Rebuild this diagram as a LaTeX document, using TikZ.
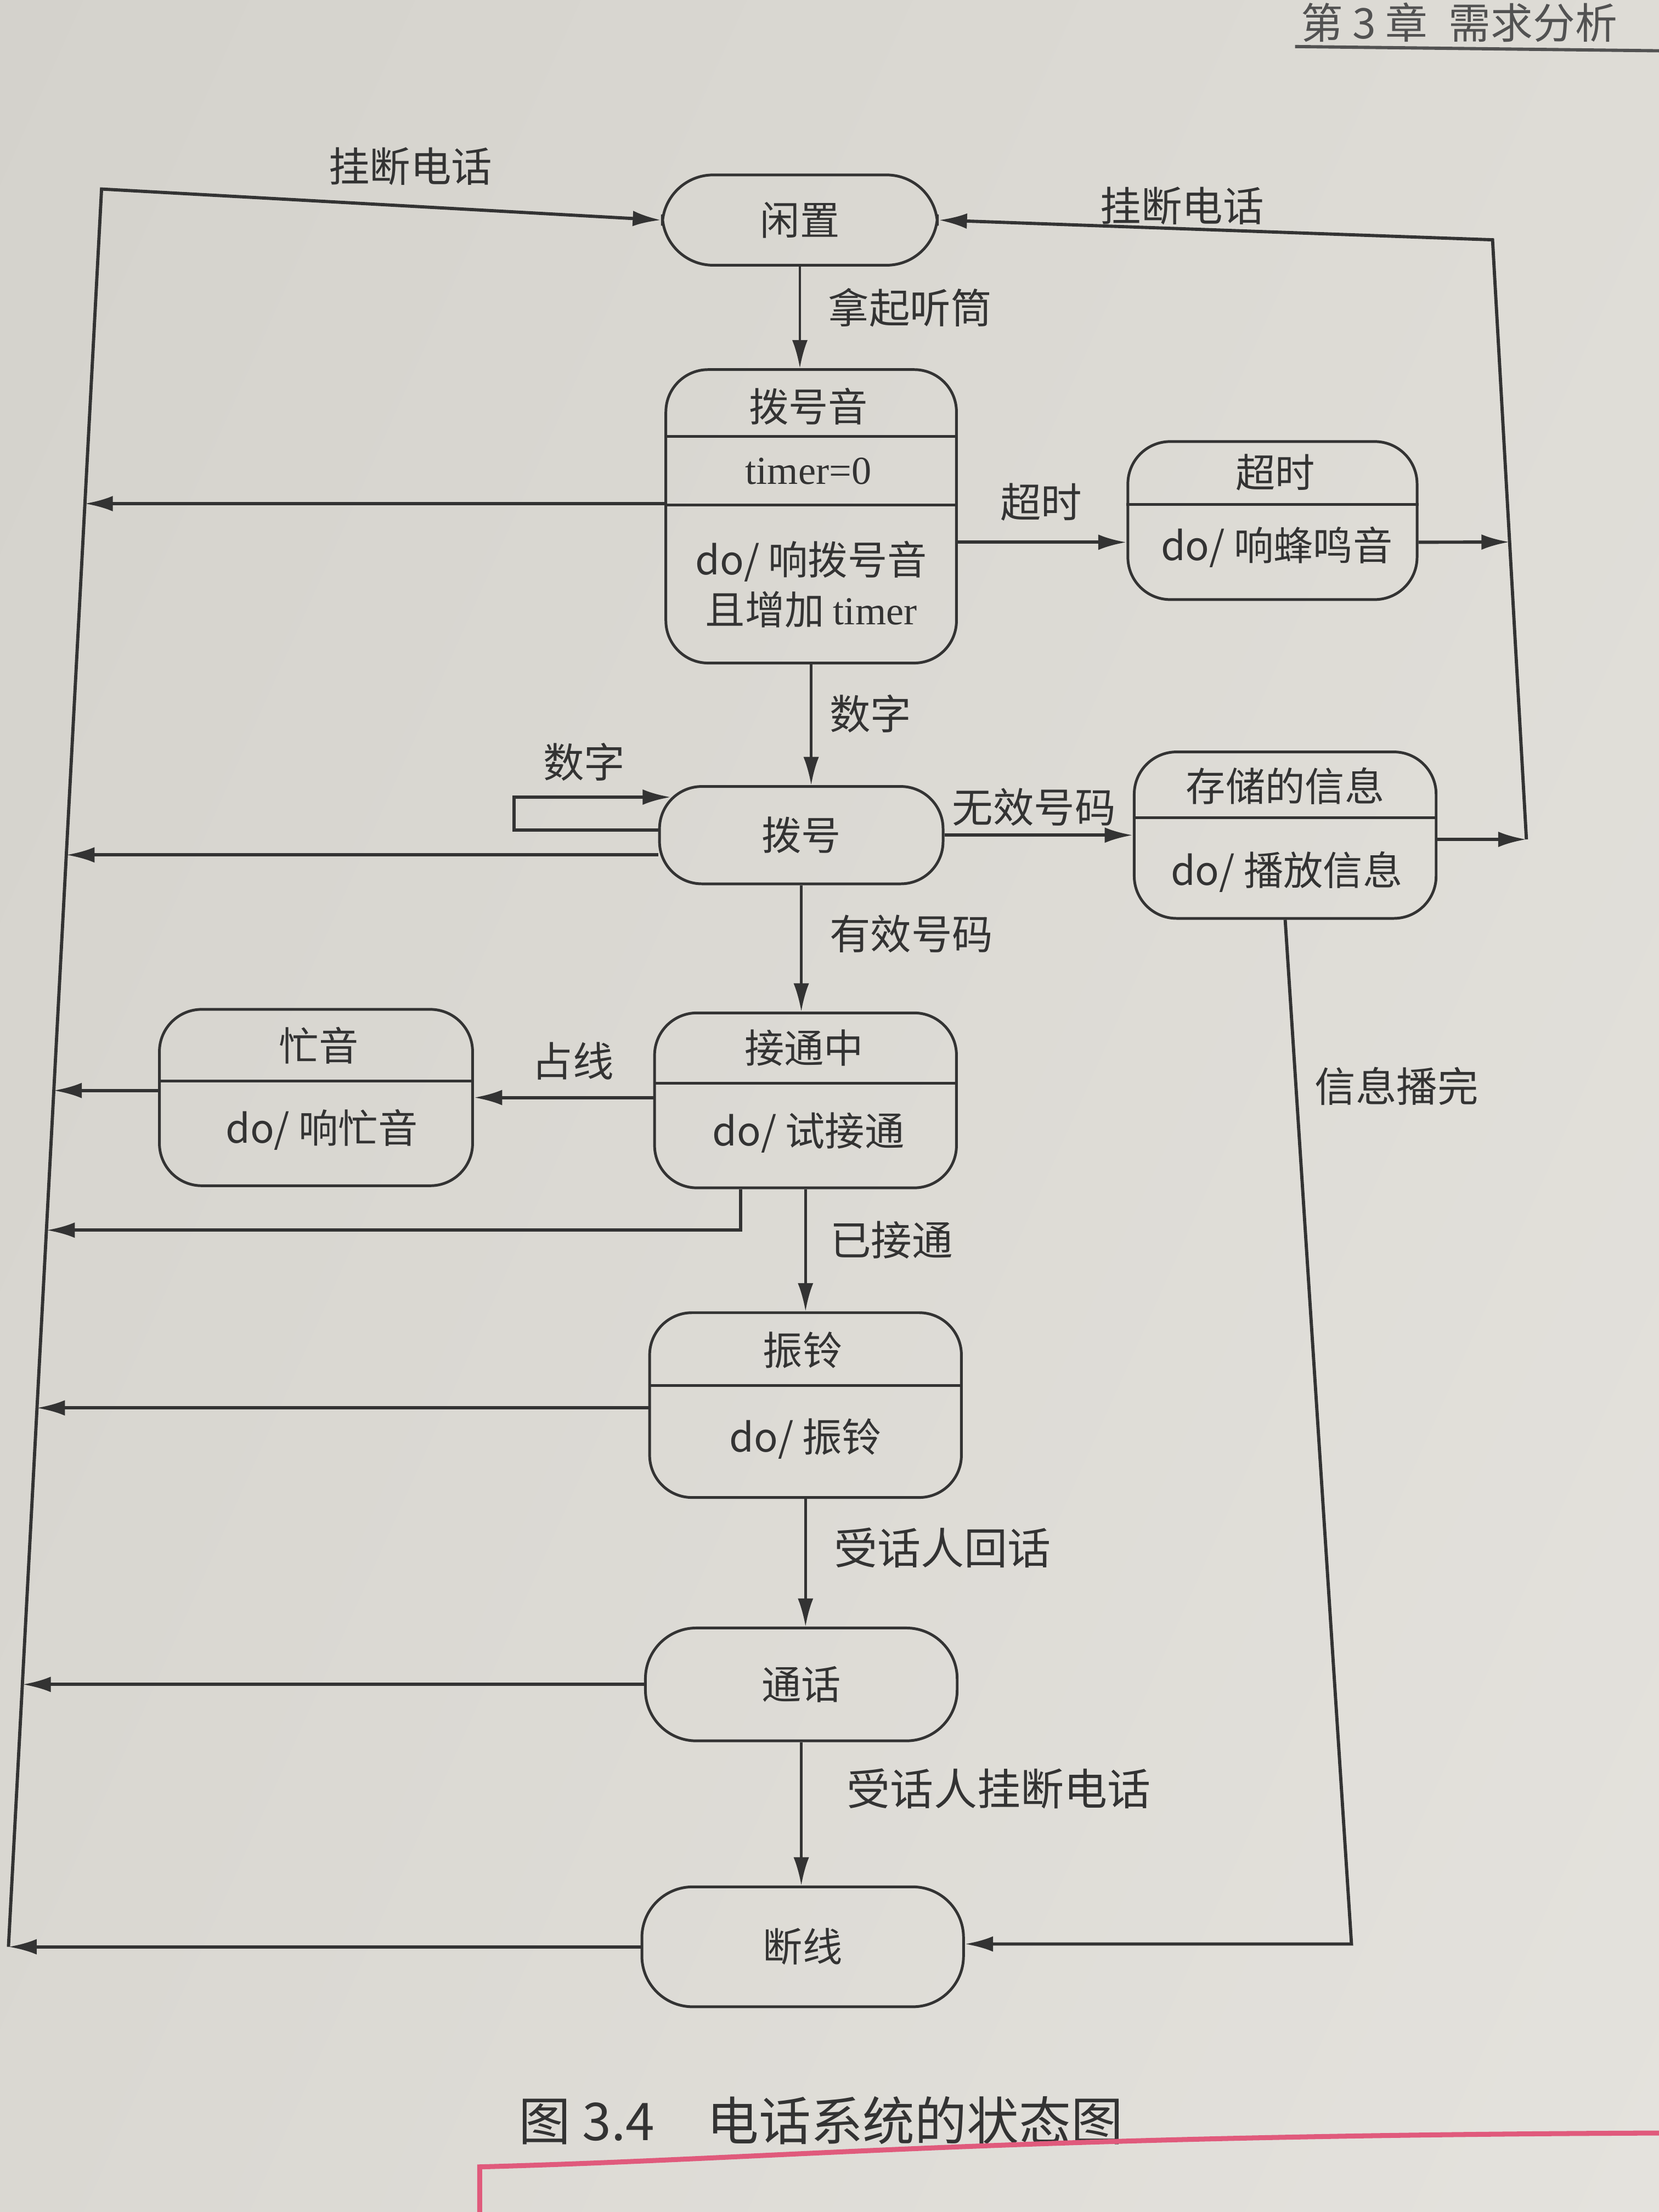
\documentclass[tikz,border=0pt]{standalone}
\usepackage{fontspec}
\setmainfont{Liberation Serif}
\newfontfamily\cjk{Noto Sans CJK SC}
\usetikzlibrary{arrows.meta,calc,shadings}
\definecolor{ink}{HTML}{333333}
\definecolor{paperA}{HTML}{D4D2CC}
\definecolor{paperB}{HTML}{DEDCD6}
\definecolor{paperC}{HTML}{DAD8D2}
\definecolor{paperD}{HTML}{E4E2DD}
\definecolor{pen}{HTML}{E05A7C}
\newlength{\ux}\setlength{\ux}{0.02cm}

\begin{document}
\begin{tikzpicture}[x=0.02cm,y=-0.02cm,
  state/.style={draw=ink, line width=1.1pt, rounded corners=30\ux, inner sep=0pt,
                font=\cjk\fontsize{16}{18}\selectfont, text=ink},
  pill/.style={state, rounded corners=36\ux},
  txt/.style={font=\cjk\fontsize{16}{18}\selectfont, text=ink, inner sep=0pt},
  lbl/.style={font=\cjk\fontsize{16.5}{18}\selectfont, text=ink, inner sep=0pt},
  big/.style={font=\cjk\fontsize{17.5}{19}\selectfont, text=ink, inner sep=0pt},
  tip/.style={-{Latex[length=0.4cm,width=0.22cm]}},
  arr/.style={draw=ink, line width=1pt, tip},
  bus/.style={draw=ink, line width=1.3pt, tip},
  part/.style={draw=ink, line width=1.1pt}
]
\useasboundingbox (0,0) rectangle (1176,1568);
\clip (0,0) rectangle (1176,1568);
\shade[upper left=paperA, upper right=paperB, lower left=paperC, lower right=paperD] (0,0) rectangle (1176,1568);

% running head
\node[anchor=west, font=\cjk\fontsize{17}{19}\selectfont, text=ink!85, inner sep=0pt] (head) at (922,16) {第 3 章\enspace 需求分析};
\draw[ink!85, line width=1.3pt] (918,33) -- (1176,36);

% ---------- states ----------
\node[pill, minimum width=195\ux, minimum height=64\ux] (idle) at (567,156) {闲置};

\node[state, minimum width=206\ux, minimum height=208\ux] (dialtone) at (575,366) {};
\node[txt] (dialtoneT) at (573,288) {拨号音};
\node[txt] (dialtoneV) at (573,334) {\rmfamily timer=0};
\node[txt] (dialtoneA) at (575,398) {do/ 响拨号音};
\node[txt] (dialtoneB) at (575,432) {且增加 {\rmfamily timer}};
\draw[part] ($(dialtone.north west)!0.231!(dialtone.south west)$) -- ($(dialtone.north east)!0.231!(dialtone.south east)$);
\draw[part] ($(dialtone.north west)!0.462!(dialtone.south west)$) -- ($(dialtone.north east)!0.462!(dialtone.south east)$);

\node[state, minimum width=205\ux, minimum height=112\ux] (timeout) at (902,369) {};
\node[txt] (timeoutT) at (904,335) {超时};
\node[txt] (timeoutA) at (905,388) {do/ 响蜂鸣音};
\draw[part] ($(timeout.north west)!0.40!(timeout.south west)$) -- ($(timeout.north east)!0.40!(timeout.south east)$);

\node[pill, minimum width=201\ux, minimum height=69\ux, rounded corners=30\ux] (dialing) at (568,592) {拨号};

\node[state, minimum width=214\ux, minimum height=118\ux] (stored) at (911,592) {};
\node[txt] (storedT) at (911,557) {存储的信息};
\node[txt] (storedA) at (912,618) {do/ 播放信息};
\draw[part] ($(stored.north west)!0.398!(stored.south west)$) -- ($(stored.north east)!0.398!(stored.south east)$);

\node[state, minimum width=214\ux, minimum height=124\ux] (connecting) at (571,780) {};
\node[txt] (connectingT) at (570,743) {接通中};
\node[txt] (connectingA) at (573,803) {do/ 试接通};
\draw[part] ($(connecting.north west)!0.403!(connecting.south west)$) -- ($(connecting.north east)!0.403!(connecting.south east)$);

\node[state, minimum width=222\ux, minimum height=125\ux] (busy) at (224,778) {};
\node[txt] (busyT) at (226,741) {忙音};
\node[txt] (busyA) at (228,801) {do/ 响忙音};
\draw[part] ($(busy.north west)!0.408!(busy.south west)$) -- ($(busy.north east)!0.408!(busy.south east)$);

\node[state, minimum width=221\ux, minimum height=131\ux] (ringing) at (571,996) {};
\node[txt] (ringingT) at (569,957) {振铃};
\node[txt] (ringingA) at (571,1020) {do/ 振铃};
\draw[part] ($(ringing.north west)!0.397!(ringing.south west)$) -- ($(ringing.north east)!0.397!(ringing.south east)$);

\node[pill, minimum width=221\ux, minimum height=80\ux] (talking) at (568,1194) {通话};
\node[pill, minimum width=228\ux, minimum height=85\ux] (hungup) at (569,1380) {断线};

% ---------- main column ----------
\draw[arr] (idle.south) -- (idle.south |- dialtone.north);
\draw[arr] (dialtone.south) -- (dialtone.south |- dialing.north);
\draw[arr] (dialing.south) -- (dialing.south |- connecting.north);
\draw[arr] (connecting.south) -- (connecting.south |- ringing.north);
\draw[arr] (ringing.south) -- (ringing.south |- talking.north);
\draw[arr] (talking.south) -- (talking.south |- hungup.north);

% ---------- hang-up bus on the left ----------
\coordinate (lt) at (72,134);
\coordinate (lb) at (6,1380);
\coordinate (l1) at (60,357);
\coordinate (l2) at (47,606);
\coordinate (l3) at (38,773);
\coordinate (l4) at (33,872);
\coordinate (l5) at (26,998);
\coordinate (l6) at (16,1194);
\coordinate (cb) at (525,872);
\draw[bus] (lb) -- (lt) -- (idle.west);
\draw[bus] (dialtone.west |- l1) -- (l1);
\draw[bus] (dialing.west |- l2) -- (l2);
\draw[bus] (busy.west |- l3) -- (l3);
\draw[bus] (cb |- connecting.south) -- (cb) -- (l4);
\draw[bus] (ringing.west |- l5) -- (l5);
\draw[bus] (talking.west |- l6) -- (l6);
\draw[bus] (hungup.west) -- (lb);

% ---------- hang-up bus on the right ----------
\coordinate (rt) at (1058,170);
\coordinate (rb) at (1082,595);
\coordinate (r1) at ($(rt)!0.504!(rb)$);
\coordinate (tin) at ($(timeout.north west)!0.635!(timeout.south west)$);
\draw[bus] (rb) -- (rt) -- (idle.east);
\draw[bus] (tin -| timeout.east) -- (r1);
\draw[bus] (stored.east |- rb) -- (rb);

% ---------- side transitions ----------
\draw[bus] (dialtone.east |- tin) -- (tin);
\draw[bus] (dialing.east) -- (stored.west);
\coordinate (lpA) at ($(dialing.north west)!0.45!(dialing.south west)$);
\coordinate (lpB) at ($(dialing.north west)!0.12!(dialing.south west)+(9,0)$);
\draw[bus] (lpA) -- ++(-102,0) |- (lpB);
\draw[bus] (connecting.west |- busy.east) -- (busy.east);
\coordinate (sd) at (958,1378);
\draw[bus] (stored.south) -- (sd) -- (hungup.east |- sd);

% ---------- transition labels ----------
\node[lbl] (hang1) at (291,118) {挂断电话};
\node[lbl] (hang2) at (838,146) {挂断电话};
\node[lbl] (pick) at (645,218) {拿起听筒};
\node[lbl] (tmo) at (738,356) {超时};
\node[lbl] (dig1) at (617,506) {数字};
\node[lbl] (dig2) at (414,540) {数字};
\node[lbl] (inval) at (733,572) {无效号码};
\node[lbl] (valid) at (646,662) {有效号码};
\node[lbl] (engaged) at (406,752) {占线};
\node[lbl] (played) at (990,770) {信息播完};
\node[lbl] (conn) at (632,879) {已接通};
\node[big] (answer) at (668,1097) {受话人回话};
\node[big] (callee) at (708,1268) {受话人挂断电话};

% ---------- caption ----------
\node[font=\cjk\fontsize{21}{23}\selectfont, text=ink, inner sep=0pt] (caption) at (582,1503) {图 3.4\quad 电话系统的状态图};

% pen mark under the caption
\draw[pen, line width=2pt] (340,1568) -- (340,1536) .. controls (560,1530) and (700,1514) .. (1176,1512);
\end{tikzpicture}
\end{document}
